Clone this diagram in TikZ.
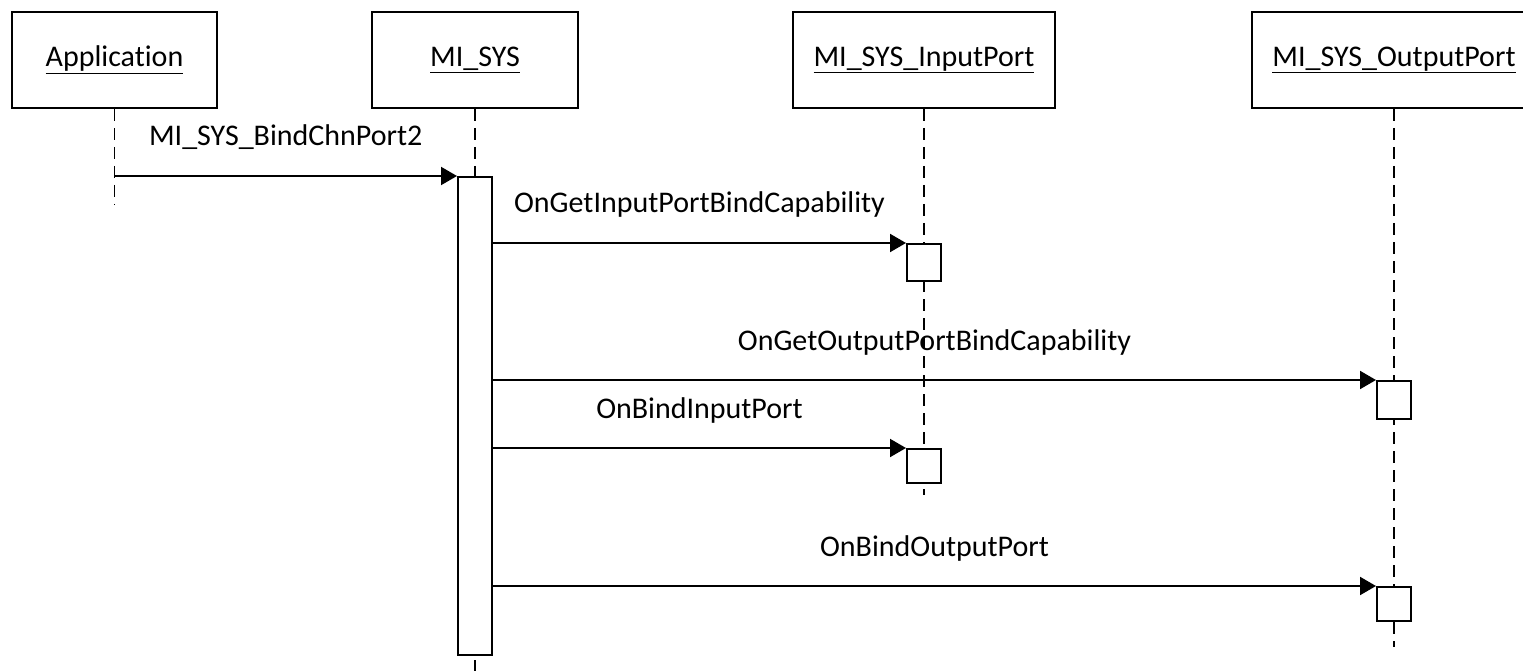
\documentclass[tikz,border=0pt]{standalone}
\usepackage{fontspec}
\setmainfont{Carlito}[Ligatures={NoCommon}]
\usetikzlibrary{arrows.meta, positioning}

\begin{document}
\begin{tikzpicture}[x=1pt, y=-1pt,
		every node/.style={font=\fontsize{30}{36}\selectfont},
		actor/.style={draw, line width=2pt, minimum height=96pt, inner sep=0pt},
		act/.style={draw, fill=white, line width=2pt, minimum width=34pt, inner sep=0pt},
		life/.style={line width=1.5pt, dash pattern=on 12pt off 7pt},
		msg/.style={line width=2pt, -{Triangle[length=16pt, width=18pt]}},
		msglabel/.style={anchor=base, yshift=30pt}]
	\useasboundingbox (0,0) rectangle (1523,671);
	\clip (0,0) rectangle (1523,671);

	\node[actor, minimum width=205pt] (app) at (114.5,60) {\underline{Application}};
	\node[actor, minimum width=206pt] (sys) at (475,60) {\underline{MI\_SYS}};
	\node[actor, minimum width=262pt] (inport) at (924,60) {\underline{MI\_SYS\_InputPort}};
	\node[actor, minimum width=284pt] (outport) at (1394,60) {\underline{MI\_SYS\_OutputPort}};

	\coordinate (append) at (114.5,205);
	\coordinate (sysend) at (475,671);
	\coordinate (inend) at (924,495);
	\coordinate (outend) at (1394,647);

	\draw[life] (app.south) -- (append);
	\draw[life] (sys.south) -- (sysend);
	\draw[life] (inport.south) -- (inend);
	\draw[life] (outport.south) -- (outend);

	\node[act, minimum height=478pt] (sysact) at (475,416) {};
	\node[act, minimum height=37pt] (inact1) at (924,262.5) {};
	\node[act, minimum height=38pt] (outact1) at (1394,400) {};
	\node[act, minimum height=34pt] (inact2) at (924,466) {};
	\node[act, minimum height=34pt] (outact2) at (1394,604) {};

	\draw[msg] (app.south |- sysact.north) -- (sysact.north west)
		node[msglabel, midway] {MI\_SYS\_BindChnPort2};
	\draw[msg] (sysact.east |- inact1.north) -- (inact1.north west)
		node[msglabel, midway] {OnGetInputPortBindCapability};
	\draw[msg] (sysact.east |- outact1.north) -- (outact1.north west)
		node[msglabel, midway] {OnGetOutputPortBindCapability};
	\draw[msg] (sysact.east |- inact2.north) -- (inact2.north west)
		node[msglabel, midway] {OnBindInputPort};
	\draw[msg] (sysact.east |- outact2.north) -- (outact2.north west)
		node[msglabel, midway] {OnBindOutputPort};
\end{tikzpicture}
\end{document}
